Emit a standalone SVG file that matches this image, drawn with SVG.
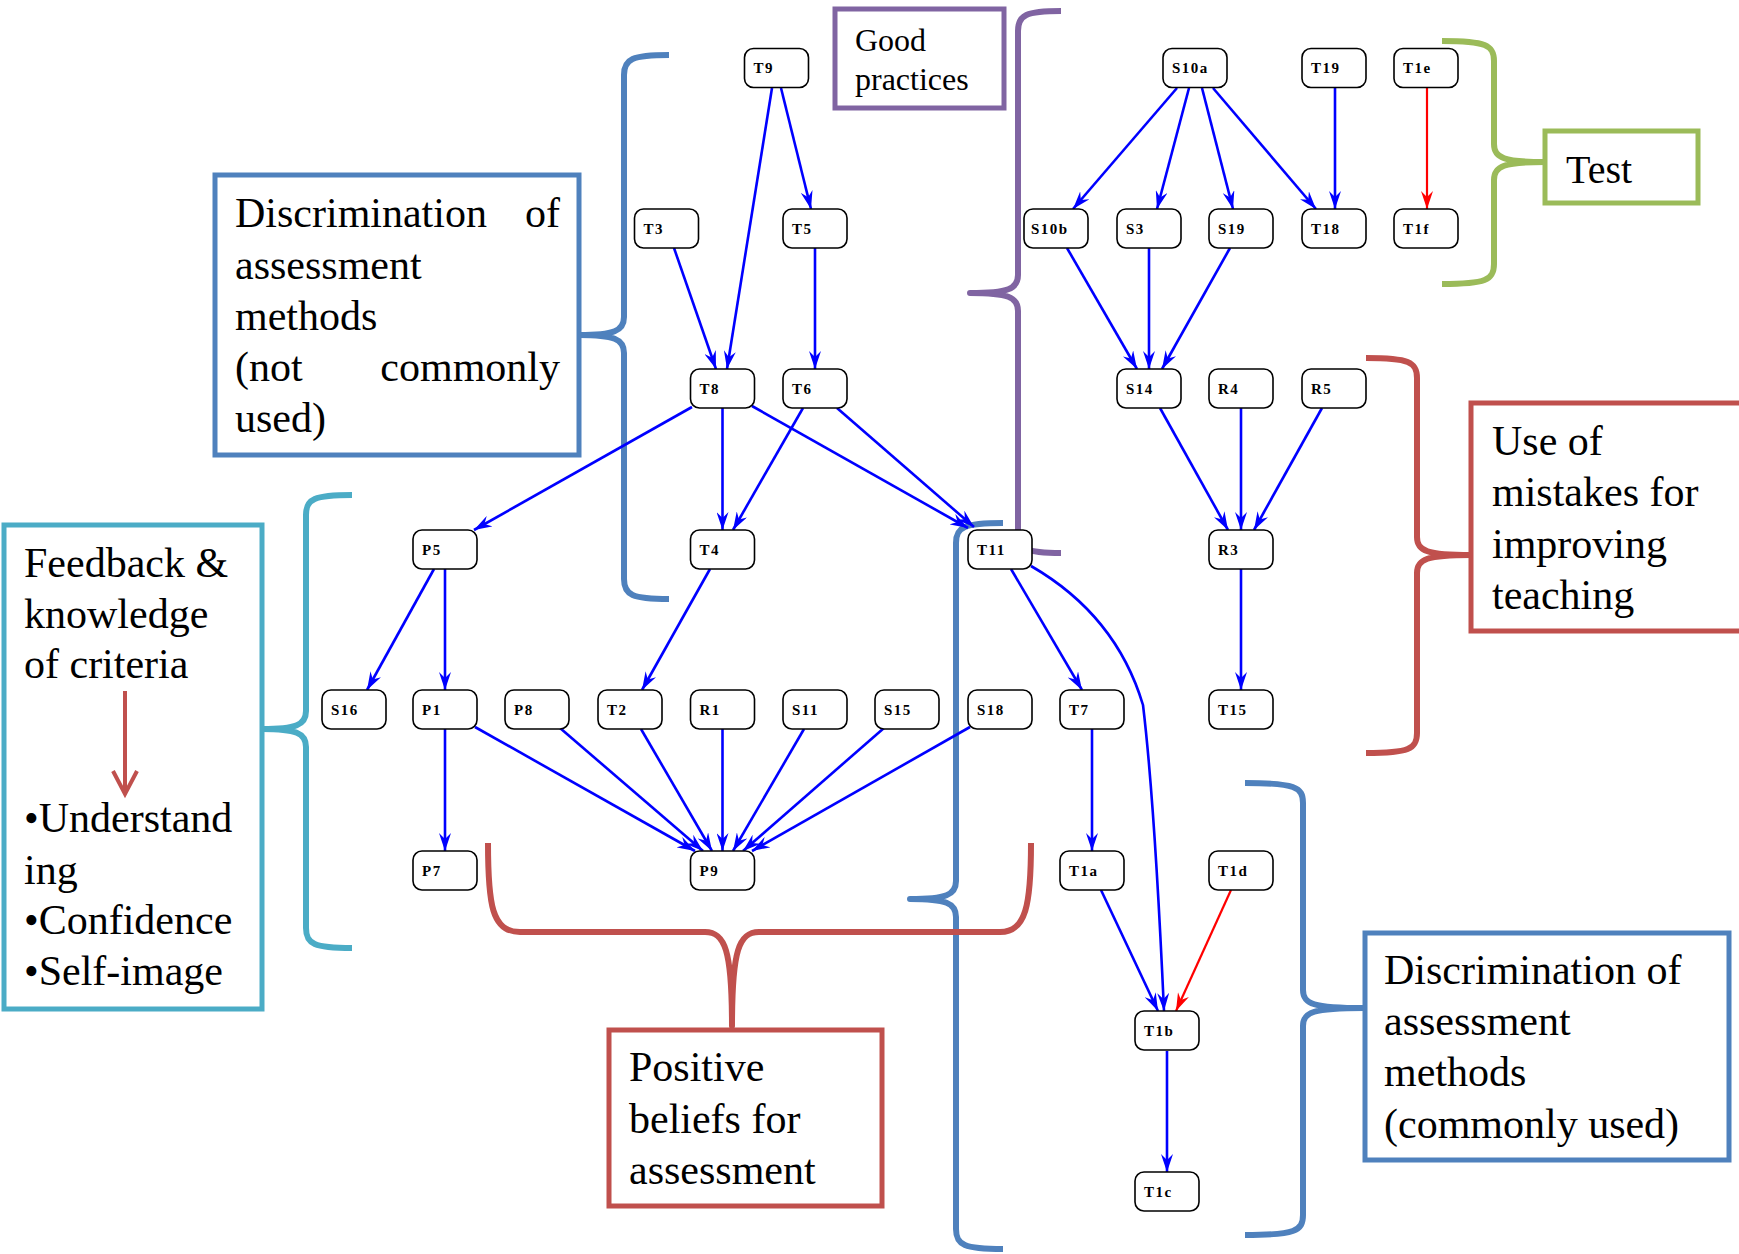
<svg xmlns="http://www.w3.org/2000/svg" width="1739" height="1254" viewBox="0 0 1739 1254">
<style>
.n rect{fill:#fff;stroke:#000;stroke-width:1.6}
.n text{font-family:"Liberation Serif",serif;font-weight:bold;font-size:15px;letter-spacing:1.5px;fill:#000}
.e path,.e line{fill:none;stroke:#0000ff;stroke-width:2.6}
.e .r{stroke:#ff0000;stroke-width:2.2}
.lbl{font-family:"Liberation Serif",serif;font-size:42px;fill:#000}
.br{fill:none;stroke-width:6;stroke-linecap:butt;stroke-linejoin:round}
.box{fill:#fff;stroke-width:5}
</style>
<defs>
<marker id="ab" viewBox="0 0 18 12" refX="18" refY="6" markerWidth="18" markerHeight="12" markerUnits="userSpaceOnUse" orient="auto"><path d="M0,0 L18,6 L0,12 L6,6 z" fill="#0000ff"/></marker>
<marker id="ar" viewBox="0 0 18 12" refX="18" refY="6" markerWidth="18" markerHeight="12" markerUnits="userSpaceOnUse" orient="auto"><path d="M0,0 L18,6 L0,12 L6,6 z" fill="#ff0000"/></marker>
</defs>
<rect width="1739" height="1254" fill="#fff"/>

<!-- braces -->
<g id="braces">
<path class="br" stroke="#4F81BD" d="M669,55 C632,55 624,59 624,75 L624,317 C624,331 614,335 579,335 C614,335 624,339 624,353 L624,579 C624,595 632,599 669,599"/>
<path class="br" stroke="#4BACC6" d="M352,495 C314,495 306,499 306,515 L306,711 C306,725 296,729 262,729 C296,729 306,733 306,747 L306,928 C306,944 314,948 352,948"/>
<path class="br" stroke="#8064A2" d="M1061,11 C1026,11 1018,15 1018,31 L1018,275 C1018,289 1008,293 970,293 C1008,293 1018,297 1018,311 L1018,533 C1018,549 1026,553 1061,553"/>
<path class="br" stroke="#4F81BD" d="M1003,523 C964,523 956,527 956,543 L956,881 C956,895 946,899 910,899 C946,899 956,903 956,917 L956,1229 C956,1245 964,1249 1003,1249"/>
<path class="br" stroke="#9BBB59" d="M1442,41 C1486,41 1494,45 1494,61 L1494,144 C1494,158 1504,162 1545,162 C1504,162 1494,166 1494,180 L1494,264 C1494,280 1486,284 1442,284"/>
<path class="br" stroke="#C0504D" d="M1366,358 C1409,358 1417,362 1417,378 L1417,537 C1417,551 1427,555 1471,555 C1427,555 1417,559 1417,573 L1417,733 C1417,749 1409,753 1366,753"/>
<path class="br" stroke="#4F81BD" d="M1245,783 C1295,783 1303,787 1303,803 L1303,990 C1303,1004 1313,1008 1364,1008 C1313,1008 1303,1012 1303,1026 L1303,1215 C1303,1231 1295,1235 1245,1235"/>
<path class="br" stroke="#C0504D" d="M488,843 C488,905 492,932 520,932 L705,932 C725,932 732,950 732,1026 C732,950 739,932 759,932 L1000,932 C1026,932 1031,905 1031,843"/>
</g>

<!-- annotation boxes -->
<g id="good-practices">
<rect class="box" stroke="#8064A2" x="835" y="9" width="169" height="99"/>
<text class="lbl" style="font-size:32px" x="855" y="51">Good</text>
<text class="lbl" style="font-size:32px" x="855" y="90">practices</text>
</g>
<g id="not-commonly">
<rect class="box" stroke="#4F81BD" x="215" y="175" width="364" height="280"/>
<text class="lbl" x="235" y="227">Discrimination</text>
<text class="lbl" x="560" y="227" text-anchor="end">of</text>
<text class="lbl" x="235" y="279">assessment</text>
<text class="lbl" x="235" y="330">methods</text>
<text class="lbl" x="235" y="381">(not</text>
<text class="lbl" x="560" y="381" text-anchor="end">commonly</text>
<text class="lbl" x="235" y="432">used)</text>
</g>
<g id="test">
<rect class="box" stroke="#9BBB59" x="1545" y="131" width="153" height="72"/>
<text class="lbl" style="font-size:40px" x="1566" y="183">Test</text>
</g>
<g id="mistakes">
<rect class="box" stroke="#C0504D" x="1471" y="403" width="280" height="228"/>
<text class="lbl" x="1492" y="455">Use of</text>
<text class="lbl" x="1492" y="506">mistakes for</text>
<text class="lbl" x="1492" y="558">improving</text>
<text class="lbl" x="1492" y="609">teaching</text>
</g>
<g id="feedback">
<rect class="box" stroke="#4BACC6" x="4" y="525" width="258" height="484"/>
<text class="lbl" x="24" y="577">Feedback &amp;</text>
<text class="lbl" x="24" y="628">knowledge</text>
<text class="lbl" x="24" y="678">of criteria</text>
<line x1="125" y1="691" x2="125" y2="792" stroke="#C0504D" stroke-width="4"/>
<polyline points="113,771 125,794 137,771" fill="none" stroke="#C0504D" stroke-width="4"/>
<text class="lbl" x="24" y="832">•Understand</text>
<text class="lbl" x="24" y="884">ing</text>
<text class="lbl" x="24" y="934">•Confidence</text>
<text class="lbl" x="24" y="985">•Self-image</text>
</g>
<g id="positive">
<rect class="box" stroke="#C0504D" x="609" y="1030" width="273" height="176"/>
<text class="lbl" x="629" y="1081">Positive</text>
<text class="lbl" x="629" y="1133">beliefs for</text>
<text class="lbl" x="629" y="1184">assessment</text>
</g>
<g id="commonly">
<rect class="box" stroke="#4F81BD" x="1365" y="933" width="364" height="227"/>
<text class="lbl" x="1384" y="984">Discrimination of</text>
<text class="lbl" x="1384" y="1035">assessment</text>
<text class="lbl" x="1384" y="1086">methods</text>
<text class="lbl" x="1384" y="1138">(commonly used)</text>
</g>

<!-- connectors -->
<g id="connectors" class="e">
<line x1="772" y1="88" x2="727" y2="369" marker-end="url(#ab)"/>
<line x1="781" y1="88" x2="811" y2="209" marker-end="url(#ab)"/>
<line x1="674" y1="248" x2="716" y2="369" marker-end="url(#ab)"/>
<line x1="815" y1="248" x2="815" y2="369" marker-end="url(#ab)"/>
<line x1="692" y1="407" x2="474" y2="530" marker-end="url(#ab)"/>
<line x1="722.5" y1="408" x2="722.5" y2="530" marker-end="url(#ab)"/>
<line x1="752" y1="406" x2="968" y2="528" marker-end="url(#ab)"/>
<line x1="803" y1="408" x2="733" y2="530" marker-end="url(#ab)"/>
<line x1="837" y1="408" x2="974" y2="527" marker-end="url(#ab)"/>
<line x1="434" y1="569" x2="367" y2="690" marker-end="url(#ab)"/>
<line x1="445" y1="569" x2="445" y2="690" marker-end="url(#ab)"/>
<line x1="710" y1="569" x2="642" y2="690" marker-end="url(#ab)"/>
<line x1="1011" y1="569" x2="1082" y2="690" marker-end="url(#ab)"/>
<path d="M1031,566 C1095,603 1128,655 1143,705 C1152,780 1159,900 1164,1011" marker-end="url(#ab)"/>
<line x1="445" y1="729" x2="445" y2="851" marker-end="url(#ab)"/>
<line x1="475" y1="727" x2="695" y2="851" marker-end="url(#ab)"/>
<line x1="560" y1="728" x2="703" y2="851" marker-end="url(#ab)"/>
<line x1="641" y1="729" x2="712" y2="851" marker-end="url(#ab)"/>
<line x1="722.5" y1="729" x2="722.5" y2="851" marker-end="url(#ab)"/>
<line x1="804" y1="729" x2="733" y2="851" marker-end="url(#ab)"/>
<line x1="884" y1="728" x2="743" y2="851" marker-end="url(#ab)"/>
<line x1="970" y1="727" x2="752" y2="851" marker-end="url(#ab)"/>
<line x1="1092" y1="729" x2="1092" y2="851" marker-end="url(#ab)"/>
<line x1="1101" y1="890" x2="1158" y2="1011" marker-end="url(#ab)"/>
<line class="r" x1="1231" y1="890" x2="1176" y2="1011" marker-end="url(#ar)"/>
<line x1="1167" y1="1051" x2="1167" y2="1172" marker-end="url(#ab)"/>
<line x1="1177" y1="88" x2="1073" y2="209" marker-end="url(#ab)"/>
<line x1="1189" y1="88" x2="1157" y2="209" marker-end="url(#ab)"/>
<line x1="1202" y1="88" x2="1233" y2="209" marker-end="url(#ab)"/>
<line x1="1213" y1="88" x2="1316" y2="209" marker-end="url(#ab)"/>
<line x1="1335" y1="88" x2="1335" y2="209" marker-end="url(#ab)"/>
<line class="r" x1="1427" y1="88" x2="1427" y2="209" marker-end="url(#ar)"/>
<line x1="1067" y1="248" x2="1137" y2="369" marker-end="url(#ab)"/>
<line x1="1149" y1="248" x2="1149" y2="369" marker-end="url(#ab)"/>
<line x1="1230" y1="248" x2="1162" y2="369" marker-end="url(#ab)"/>
<line x1="1160" y1="408" x2="1228" y2="530" marker-end="url(#ab)"/>
<line x1="1241" y1="408" x2="1241" y2="530" marker-end="url(#ab)"/>
<line x1="1322" y1="408" x2="1254" y2="530" marker-end="url(#ab)"/>
<line x1="1241" y1="569" x2="1241" y2="690" marker-end="url(#ab)"/>
</g>

<!-- nodes -->
<g id="n-T9" class="n"><rect x="744.5" y="48.5" width="64" height="39" rx="9"/><text x="753.5" y="73">T9</text></g>
<g id="n-T3" class="n"><rect x="634.5" y="209" width="64" height="39" rx="9"/><text x="643.5" y="233.5">T3</text></g>
<g id="n-T5" class="n"><rect x="783" y="209" width="64" height="39" rx="9"/><text x="792" y="233.5">T5</text></g>
<g id="n-T8" class="n"><rect x="690.5" y="369" width="64" height="39" rx="9"/><text x="699.5" y="393.5">T8</text></g>
<g id="n-T6" class="n"><rect x="783" y="369" width="64" height="39" rx="9"/><text x="792" y="393.5">T6</text></g>
<g id="n-P5" class="n"><rect x="413" y="530" width="64" height="39" rx="9"/><text x="422" y="554.5">P5</text></g>
<g id="n-T4" class="n"><rect x="690.5" y="530" width="64" height="39" rx="9"/><text x="699.5" y="554.5">T4</text></g>
<g id="n-T11" class="n"><rect x="968" y="530" width="64" height="39" rx="9"/><text x="977" y="554.5">T11</text></g>
<g id="n-S16" class="n"><rect x="322" y="690" width="64" height="39" rx="9"/><text x="331" y="714.5">S16</text></g>
<g id="n-P1" class="n"><rect x="413" y="690" width="64" height="39" rx="9"/><text x="422" y="714.5">P1</text></g>
<g id="n-P8" class="n"><rect x="505" y="690" width="64" height="39" rx="9"/><text x="514" y="714.5">P8</text></g>
<g id="n-T2" class="n"><rect x="598" y="690" width="64" height="39" rx="9"/><text x="607" y="714.5">T2</text></g>
<g id="n-R1" class="n"><rect x="690.5" y="690" width="64" height="39" rx="9"/><text x="699.5" y="714.5">R1</text></g>
<g id="n-S11" class="n"><rect x="783" y="690" width="64" height="39" rx="9"/><text x="792" y="714.5">S11</text></g>
<g id="n-S15" class="n"><rect x="875" y="690" width="64" height="39" rx="9"/><text x="884" y="714.5">S15</text></g>
<g id="n-S18" class="n"><rect x="968" y="690" width="64" height="39" rx="9"/><text x="977" y="714.5">S18</text></g>
<g id="n-T7" class="n"><rect x="1060" y="690" width="64" height="39" rx="9"/><text x="1069" y="714.5">T7</text></g>
<g id="n-T15" class="n"><rect x="1209" y="690" width="64" height="39" rx="9"/><text x="1218" y="714.5">T15</text></g>
<g id="n-P7" class="n"><rect x="413" y="851" width="64" height="39" rx="9"/><text x="422" y="875.5">P7</text></g>
<g id="n-P9" class="n"><rect x="690.5" y="851" width="64" height="39" rx="9"/><text x="699.5" y="875.5">P9</text></g>
<g id="n-T1a" class="n"><rect x="1060" y="851" width="64" height="39" rx="9"/><text x="1069" y="875.5">T1a</text></g>
<g id="n-T1d" class="n"><rect x="1209" y="851" width="64" height="39" rx="9"/><text x="1218" y="875.5">T1d</text></g>
<g id="n-T1b" class="n"><rect x="1135" y="1011" width="64" height="39" rx="9"/><text x="1144" y="1035.5">T1b</text></g>
<g id="n-T1c" class="n"><rect x="1135" y="1172" width="64" height="39" rx="9"/><text x="1144" y="1196.5">T1c</text></g>
<g id="n-S10a" class="n"><rect x="1163" y="48.5" width="64" height="39" rx="9"/><text x="1172" y="73">S10a</text></g>
<g id="n-T19" class="n"><rect x="1302" y="48.5" width="64" height="39" rx="9"/><text x="1311" y="73">T19</text></g>
<g id="n-T1e" class="n"><rect x="1394" y="48.5" width="64" height="39" rx="9"/><text x="1403" y="73">T1e</text></g>
<g id="n-S10b" class="n"><rect x="1024" y="209" width="64" height="39" rx="9"/><text x="1031" y="233.5">S10b</text></g>
<g id="n-S3" class="n"><rect x="1117" y="209" width="64" height="39" rx="9"/><text x="1126" y="233.5">S3</text></g>
<g id="n-S19" class="n"><rect x="1209" y="209" width="64" height="39" rx="9"/><text x="1218" y="233.5">S19</text></g>
<g id="n-T18" class="n"><rect x="1302" y="209" width="64" height="39" rx="9"/><text x="1311" y="233.5">T18</text></g>
<g id="n-T1f" class="n"><rect x="1394" y="209" width="64" height="39" rx="9"/><text x="1403" y="233.5">T1f</text></g>
<g id="n-S14" class="n"><rect x="1117" y="369" width="64" height="39" rx="9"/><text x="1126" y="393.5">S14</text></g>
<g id="n-R4" class="n"><rect x="1209" y="369" width="64" height="39" rx="9"/><text x="1218" y="393.5">R4</text></g>
<g id="n-R5" class="n"><rect x="1302" y="369" width="64" height="39" rx="9"/><text x="1311" y="393.5">R5</text></g>
<g id="n-R3" class="n"><rect x="1209" y="530" width="64" height="39" rx="9"/><text x="1218" y="554.5">R3</text></g>
</svg>
